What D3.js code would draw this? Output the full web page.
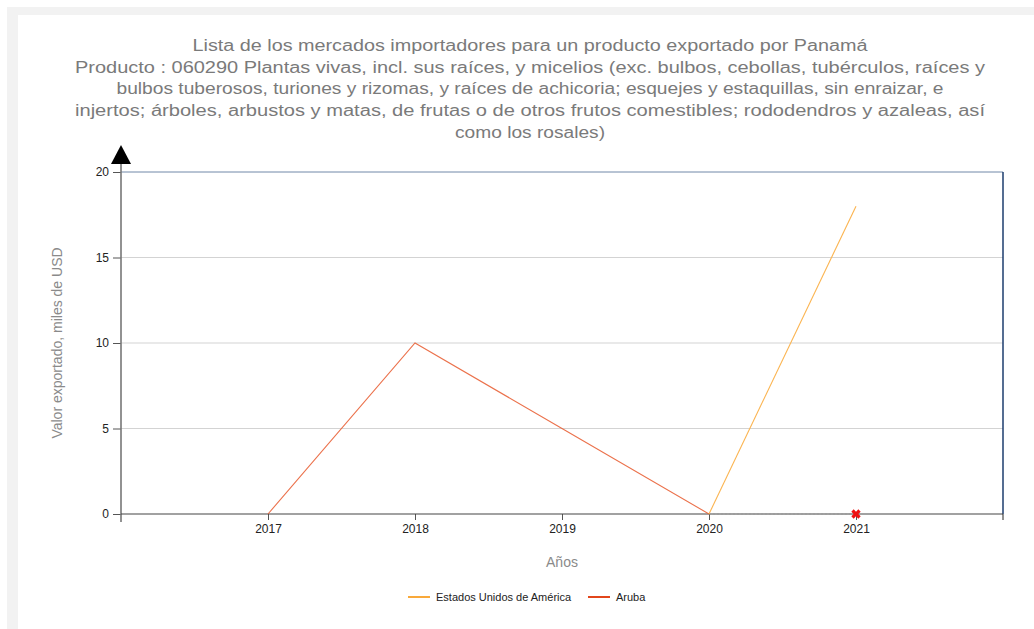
<!DOCTYPE html>
<html>
<head>
<meta charset="utf-8">
<script src="https://cdn.jsdelivr.net/npm/d3@7"></script>
<style>
  body { margin: 0; background: #fff; }
  svg { display: block; }
</style>
</head>
<body>
<div id="chart"></div>
<script>
const years = [2017, 2018, 2019, 2020, 2021];
const usaValues = [null, null, null, 0, 18];
const arubaValues = [0, 10, 5, 0, null];
const yTicks = [0, 5, 10, 15, 20];
const seriesNames = ["Estados Unidos de América", "Aruba"];
const titleLines = [
    "Lista de los mercados importadores para un producto exportado por Panamá",
    "Producto : 060290 Plantas vivas, incl. sus raíces, y micelios (exc. bulbos, cebollas, tubérculos, raíces y",
    "bulbos tuberosos, turiones y rizomas, y raíces de achicoria; esquejes y estaquillas, sin enraizar, e",
    "injertos; árboles, arbustos y matas, de frutas o de otros frutos comestibles; rododendros y azaleas, así",
    "como los rosales)"
];
const titleWidths = [675, 910, 827, 910, 150];

const width = 1034;
const height = 629;
const plot = { left: 121, right: 1003, top: 172, bottom: 514 };
const colors = { usa: "#fbb450", aruba: "#e8582c", usaLegend: "#f9a93a", arubaLegend: "#e2461b" };

const svg = d3.select("#chart")
    .append("svg")
    .attr("width", width)
    .attr("height", height);

// gray frame round the white panel
svg.append("rect").attr("x", 7).attr("y", 7).attr("width", width).attr("height", height)
    .attr("fill", "#f2f2f2");
svg.append("rect").attr("x", 18).attr("y", 15).attr("width", width).attr("height", height)
    .attr("fill", "#fff");

const x = d3.scaleLinear().domain([2016, 2022]).range([plot.left, plot.right]);
const y = d3.scaleLinear().domain([0, 20]).range([plot.bottom, plot.top]);

// title
svg.append("g").selectAll("text")
    .data(titleLines)
    .enter().append("text")
    .attr("x", 530)
    .attr("y", (d, i) => 51 + i * 21.7)
    .attr("text-anchor", "middle")
    .attr("font-family", "Liberation Sans, Arial, sans-serif")
    .attr("font-size", 16)
    .attr("fill", "#7a7a7a")
    .attr("textLength", (d, i) => titleWidths[i])
    .attr("lengthAdjust", "spacingAndGlyphs")
    .text(d => d);

// gridlines
svg.append("g").selectAll("line")
    .data(yTicks.filter(t => t > 0 && t < 20))
    .enter().append("line")
    .attr("x1", plot.left).attr("x2", plot.right)
    .attr("y1", d => y(d)).attr("y2", d => y(d))
    .attr("stroke", "#d3d3d3").attr("stroke-width", 1);

// top and right border
svg.append("line").attr("x1", plot.left).attr("x2", plot.right)
    .attr("y1", y(20)).attr("y2", y(20))
    .attr("stroke", "#7088a8").attr("stroke-width", 1);
svg.append("line").attr("x1", plot.right).attr("x2", plot.right)
    .attr("y1", plot.top).attr("y2", plot.bottom)
    .attr("stroke", "#1c3d6e").attr("stroke-width", 1.5);

// y axis
const yAxis = d3.axisLeft(y).tickValues(yTicks).tickSize(8).tickPadding(4);
const gy = svg.append("g").attr("transform", `translate(${plot.left},0)`).call(yAxis);
gy.select(".domain").remove();
gy.selectAll(".tick line").attr("stroke", "#555");
gy.selectAll(".tick text").attr("font-family", "Liberation Sans, Arial, sans-serif")
    .attr("font-size", 12).attr("fill", "#222");
svg.append("line").attr("x1", plot.left).attr("x2", plot.left)
    .attr("y1", 160).attr("y2", plot.bottom + 8)
    .attr("stroke", "#777").attr("stroke-width", 1.6);
svg.append("path")
    .attr("d", `M${plot.left},145 L${plot.left - 10},164 L${plot.left + 10},164 Z`)
    .attr("fill", "#000");

// x axis
const xAxis = d3.axisBottom(x).tickValues(years).tickFormat(d3.format("d")).tickSize(6).tickPadding(4);
const gx = svg.append("g").attr("transform", `translate(0,${plot.bottom})`).call(xAxis);
gx.select(".domain").remove();
gx.selectAll(".tick line").attr("stroke", "#555");
gx.selectAll(".tick text").attr("font-family", "Liberation Sans, Arial, sans-serif")
    .attr("font-size", 12).attr("fill", "#222");
svg.append("line").attr("x1", plot.left).attr("x2", plot.right)
    .attr("y1", plot.bottom).attr("y2", plot.bottom)
    .attr("stroke", "#444").attr("stroke-width", 1.2);
svg.append("line").attr("x1", plot.right).attr("x2", plot.right)
    .attr("y1", plot.bottom).attr("y2", plot.bottom + 6)
    .attr("stroke", "#222");

// axis titles
svg.append("text")
    .attr("transform", `translate(62,${(plot.top + plot.bottom) / 2}) rotate(-90)`)
    .attr("text-anchor", "middle")
    .attr("font-family", "Liberation Sans, Arial, sans-serif")
    .attr("font-size", 14).attr("fill", "#8a8a8a")
    .text("Valor exportado, miles de USD");
svg.append("text")
    .attr("x", x(2019)).attr("y", 567)
    .attr("text-anchor", "middle")
    .attr("font-family", "Liberation Sans, Arial, sans-serif")
    .attr("font-size", 14).attr("fill", "#8a8a8a")
    .text("Años");

// series
const line = d3.line()
    .defined(d => d.v !== null)
    .x(d => x(d.year))
    .y(d => y(d.v));

const arubaData = years.map((yr, i) => ({ year: yr, v: arubaValues[i] }));
const usaData = years.map((yr, i) => ({ year: yr, v: usaValues[i] }));

svg.append("path").datum(arubaData)
    .attr("d", line).attr("fill", "none")
    .attr("stroke", colors.aruba).attr("stroke-opacity", 0.85).attr("stroke-width", 1.1);

// empty point of Aruba: dashed line to zero and a red cross
const lastIdx = arubaValues.length - 1;
const emptyYear = years[lastIdx];
const prevYear = years[lastIdx - 1];
svg.append("line")
    .attr("x1", x(prevYear)).attr("x2", x(emptyYear))
    .attr("y1", y(arubaValues[lastIdx - 1])).attr("y2", y(0))
    .attr("stroke", "#999").attr("stroke-dasharray", "2,2").attr("stroke-width", 1);

svg.append("path").datum(usaData)
    .attr("d", line).attr("fill", "none")
    .attr("stroke", colors.usa).attr("stroke-width", 1.1);

svg.append("path")
    .attr("d", d3.symbol().type(d3.symbolCross).size(55)())
    .attr("transform", `translate(${x(emptyYear)},${y(0)}) rotate(45)`)
    .attr("fill", "#ee1111");

// legend
const legend = svg.append("g").attr("transform", "translate(408,597)");
const legendItems = [
    { name: seriesNames[0], color: colors.usaLegend, dx: 0 },
    { name: seriesNames[1], color: colors.arubaLegend, dx: 180 }
];
const li = legend.selectAll("g").data(legendItems).enter().append("g")
    .attr("transform", d => `translate(${d.dx},0)`);
li.append("line").attr("x1", 0).attr("x2", 22).attr("y1", 0).attr("y2", 0)
    .attr("stroke", d => d.color).attr("stroke-width", 2);
li.append("text").attr("x", 28).attr("y", 4)
    .attr("font-family", "Liberation Sans, Arial, sans-serif")
    .attr("font-size", 11).attr("fill", "#222")
    .text(d => d.name);
</script>
</body>
</html>
